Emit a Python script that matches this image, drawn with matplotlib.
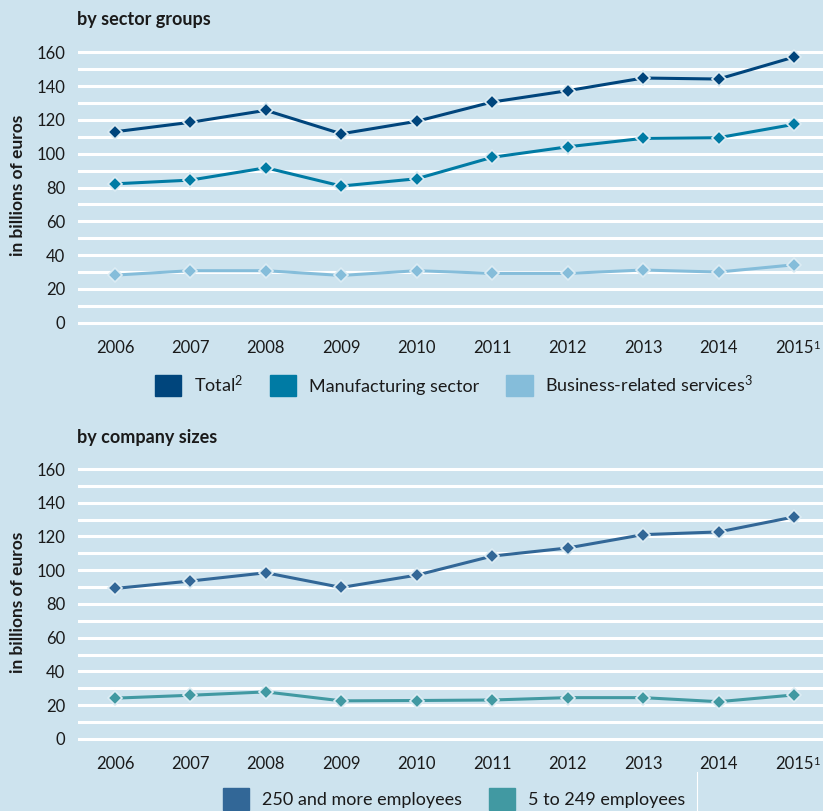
import matplotlib
matplotlib.use("Agg")
import matplotlib.pyplot as plt
from matplotlib.patches import Patch
from matplotlib.lines import Line2D

plt.rcParams['font.family'] = ['Lato', 'DejaVu Sans']
plt.rcParams['mathtext.fontset'] = 'custom'
plt.rcParams['mathtext.rm'] = 'Lato'
plt.rcParams['mathtext.it'] = 'Lato'
plt.rcParams['mathtext.bf'] = 'Lato:bold'

# Investment data, billions of euros
years = ['2006', '2007', '2008', '2009', '2010', '2011', '2012', '2013', '2014', '2015']
year_notes = {'2015': '1'}
total = [113.0, 118.6, 125.7, 111.8, 119.2, 130.6, 137.3, 144.8, 144.2, 157.2]
manufacturing = [82.2, 84.4, 91.7, 80.9, 85.2, 97.9, 104.1, 109.1, 109.5, 117.4]
business_services = [28.2, 30.8, 30.8, 28.0, 30.8, 29.2, 29.2, 31.2, 30.0, 34.3]
large_firms = [89.2, 93.6, 98.5, 89.8, 97.1, 108.4, 113.2, 121.1, 122.7, 131.6]
small_medium_firms = [24.2, 25.9, 27.9, 22.6, 22.8, 23.1, 24.5, 24.5, 22.1, 26.1]

y_ticks = [0, 20, 40, 60, 80, 100, 120, 140, 160]

BG = '#cde3ee'
TXT = '#1a1a1a'
C_TOTAL = '#00457c'
C_MANU = '#007ba4'
C_SERV = '#85bdda'
C_LARGE = '#326797'
C_SME = '#4199a2'

W, H = 823, 811
fig = plt.figure(figsize=(W / 100, H / 100), dpi=100, facecolor=BG)

XPAD = 6.5


def panel(rect, series, title, title_y, ylabel_y):
    ax = fig.add_axes(rect)
    ax.set_facecolor(BG)
    x = list(range(len(years)))
    for yv in range(0, 161, 10):
        ax.axhline(yv, color='white', lw=2.2, zorder=1)
    for vals, color in series:
        ax.plot(x, vals, color=color, lw=2.2, marker='D', ms=7.5,
                mfc=color, mec='#dcecf4', mew=1.2, zorder=3, clip_on=False)
    ax.set_xlim(-0.49, 9.384)
    ax.set_ylim(-5, 165)
    ax.set_yticks(y_ticks)
    ax.set_yticklabels([str(v) for v in y_ticks], fontsize=12, color=TXT)
    ax.set_xticks(x)
    ax.set_xticklabels(years, fontsize=12, color=TXT)
    ax.tick_params(axis='both', length=0)
    ax.tick_params(axis='y', pad=9)
    ax.tick_params(axis='x', pad=XPAD)
    for i, yr in enumerate(years):
        if yr in year_notes:
            ax.annotate(year_notes[yr], xy=(i, 0), xycoords=('data', 'axes fraction'),
                        xytext=(14.0, -XPAD + 0.5), textcoords='offset points',
                        ha='left', va='top', fontsize=8, color=TXT)
    for s in ax.spines.values():
        s.set_visible(False)
    fig.text(77 / W, 1 - title_y / H, title, fontsize=13, fontweight='bold',
             color=TXT, ha='left', va='center')
    fig.text(18 / W, 1 - ylabel_y / H, 'in billions of euros', fontsize=12.5,
             fontweight='bold', color=TXT, rotation=90, ha='center', va='center')
    return ax


ax1 = panel([78 / W, 0.5916, 745 / W, 0.3543],
            [(business_services, C_SERV), (manufacturing, C_MANU), (total, C_TOTAL)],
            'by sector groups', 20, 185)
ax2 = panel([78 / W, 0.0784, 745 / W, 0.3537],
            [(small_medium_firms, C_SME), (large_firms, C_LARGE)],
            'by company sizes', 438, 602)

leg_kw = dict(frameon=False, fontsize=13, handlelength=1.45, handleheight=1.45,
              handletextpad=0.7, columnspacing=1.5, labelcolor=TXT, borderaxespad=0)

fig.legend(handles=[Patch(color=C_TOTAL), Patch(color=C_MANU), Patch(color=C_SERV)],
           labels=['Total$^{2}$', 'Manufacturing sector', 'Business-related services$^{3}$'],
           ncol=3, loc='center', bbox_to_anchor=(454 / W, 1 - 385 / H), **leg_kw)
fig.legend(handles=[Patch(color=C_LARGE), Patch(color=C_SME)],
           labels=['250 and more employees', '5 to 249 employees'],
           ncol=2, loc='center', bbox_to_anchor=(454 / W, 1 - 799 / H), **leg_kw)

# thin divider under the lower panel
fig.add_artist(Line2D([697 / W, 697 / W], [0, 1 - 772 / H], color='white', lw=0.8))

fig.savefig('out.png', dpi=100, facecolor=BG)
